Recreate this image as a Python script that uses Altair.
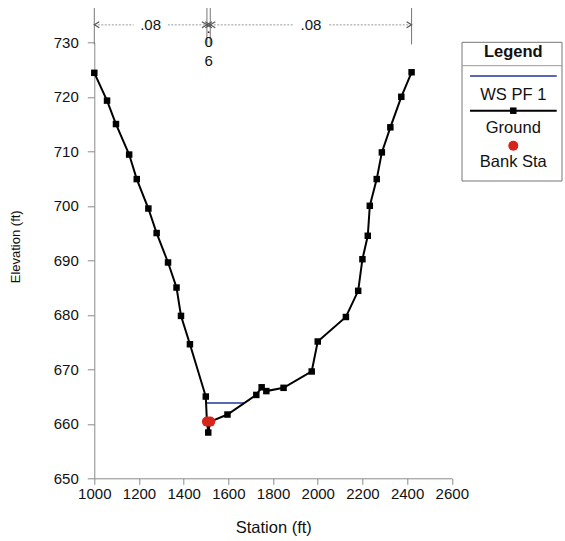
import altair as alt
import pandas as pd

# ---------------- data ----------------
ground_station = [1000, 1057, 1097, 1156, 1190, 1242, 1279, 1330, 1368, 1388,
                  1428, 1499, 1504, 1510, 1519, 1596, 1725, 1749, 1770, 1847,
                  1973, 2000, 2126, 2181, 2200, 2224, 2233, 2264, 2287, 2325,
                  2374, 2420]
ground_elev = [724.4, 719.3, 715.0, 709.4, 704.9, 699.5, 695.0, 689.6, 685.0, 679.8,
               674.6, 665.0, 660.4, 658.4, 660.4, 661.7, 665.3, 666.7, 666.0, 666.6,
               669.6, 675.1, 679.6, 684.4, 690.2, 694.5, 700.0, 704.9, 709.8, 714.4,
               720.0, 724.5]
ws_station = [1499, 1672]
ws_elev = [663.8, 663.8]
bank_station = [1504, 1519]
bank_elev = [660.4, 660.4]
n_break_station = [1000, 1504, 1519, 2420]
n_values = [".08", ".06", ".08"]
x_ticks = list(range(1000, 2601, 100))
y_ticks = list(range(650, 731, 5))
legend_labels = ["WS PF 1", "Ground", "Bank Sta"]

FONT = "Liberation Sans"
GRAY = "#8a8a8a"

ground = pd.DataFrame({"station": ground_station, "elev": ground_elev,
                       "order": list(range(len(ground_station)))})
ws = pd.DataFrame({"station": ws_station, "elev": ws_elev})
bank = pd.DataFrame({"station": bank_station, "elev": bank_elev})

xscale = alt.Scale(domain=[1000, 2600], nice=False, zero=False)
yscale = alt.Scale(domain=[650, 730], nice=False, zero=False)

xaxis = alt.Axis(values=x_ticks, labelExpr="datum.value % 200 == 0 ? datum.label : ''",
                 format="d", grid=False, title="Station (ft)", labelFont=FONT,
                 labelFontSize=15, labelColor="#111", titleFont=FONT, titleFontSize=16.5,
                 titleFontWeight="normal", titleColor="#111", domainColor=GRAY,
                 tickColor=GRAY, tickSize=6, labelPadding=2, titleX=179, titleY=49,
                 titleBaseline="middle", labelFlush=False, labelOverlap=False)
yaxis = alt.Axis(values=y_ticks, labelExpr="datum.value % 10 == 0 ? datum.label : ''",
                 format="d", grid=False, title="Elevation (ft)", labelFont=FONT,
                 labelFontSize=15, labelColor="#111", titleFont=FONT, titleFontSize=13,
                 titleFontWeight="normal", titleColor="#111", domainColor=GRAY,
                 tickColor=GRAY,
                 tickSize={"condition": {"test": "datum.value % 10 == 0", "value": 7},
                           "value": 4},
                 labelPadding=9, titleX=-79, titleY=204,
                 titleAngle=-90, titleAlign="center", titleBaseline="middle",
                 labelFlush=False, labelOverlap=False)

X = alt.X("station:Q", scale=xscale, axis=xaxis)
Y = alt.Y("elev:Q", scale=yscale, axis=yaxis)

ws_line = alt.Chart(ws).mark_line(color="#24359b", strokeWidth=1.5).encode(x=X, y=Y)
ground_line = alt.Chart(ground).mark_line(color="black", strokeWidth=2).encode(
    x=X, y=Y, order="order:Q")
ground_pts = alt.Chart(ground).mark_square(size=42, color="black", opacity=1).encode(x=X, y=Y)
bank_pts = alt.Chart(bank).mark_circle(size=100, color="#d8231a", opacity=1).encode(x=X, y=Y)

# ---------------- Manning's n annotation ----------------
nb = pd.DataFrame({"station": n_break_station})
n_rules = alt.Chart(nb).mark_rule(color="#777", strokeWidth=1).encode(
    x="station:Q", y=alt.datum(736.3), y2=alt.datum(729.6))

segs = pd.DataFrame({"s0": n_break_station[:-1], "s1": n_break_station[1:],
                     "label": n_values})
segs["mid"] = (segs["s0"] + segs["s1"]) / 2
segs["c1"] = segs["label"].str[1]
segs["c2"] = segs["label"].str[2]
n_dash = alt.Chart(segs).mark_rule(color="#999", strokeWidth=1, strokeDash=[2, 1.5]).encode(
    x="s0:Q", x2="s1:Q", y=alt.datum(733.2))
wide = segs[segs["label"] == ".08"]
n_bg = alt.Chart(wide).mark_rect(width=34, height=16, color="white").encode(
    x="mid:Q", y=alt.datum(733.2))
n_txt = alt.Chart(wide).mark_text(font=FONT, fontSize=15, color="#111",
                                  baseline="middle").encode(
    x="mid:Q", y=alt.datum(733.2), text="label:N")
narrow = segs[segs["label"] == ".06"]
n_dot = alt.Chart(narrow).mark_text(text=".", font=FONT, fontSize=15, color="#111",
                                    baseline="alphabetic", dy=8).encode(
    x="mid:Q", y=alt.datum(733.2))
n_c1 = alt.Chart(narrow).mark_text(font=FONT, fontSize=15, color="#111",
                                   baseline="middle", dy=17).encode(
    x="mid:Q", y=alt.datum(733.2), text="c1:N")
n_c2 = alt.Chart(narrow).mark_text(font=FONT, fontSize=15, color="#111",
                                   baseline="middle", dy=36).encode(
    x="mid:Q", y=alt.datum(733.2), text="c2:N")

arrows_l = alt.Chart(segs).mark_point(shape="M 1 -0.6 L 0 0 L 1 0.6", size=100,
                                      color="#555", filled=False, strokeWidth=1.2,
                                      opacity=1).encode(x="s0:Q", y=alt.datum(733.2))
arrows_r = alt.Chart(segs).mark_point(shape="M -1 -0.6 L 0 0 L -1 0.6", size=100,
                                      color="#555", filled=False, strokeWidth=1.2,
                                      opacity=1).encode(x="s1:Q", y=alt.datum(733.2))

# ---------------- legend (drawn) ----------------
one = pd.DataFrame({"a": [0]})
LX0, LX1, LCX = 367.7, 467.7, 419
leg_box = alt.Chart(one).mark_rect(fill="white", stroke="#777", strokeWidth=1).encode(
    x=alt.value(LX0), x2=alt.value(LX1), y=alt.value(0), y2=alt.value(138.7))
leg_sep = alt.Chart(one).mark_rule(color="#999", strokeWidth=1).encode(
    x=alt.value(LX0), x2=alt.value(LX1), y=alt.value(23.4))
leg_title = alt.Chart(one).mark_text(text="Legend", font=FONT, fontSize=16.5,
                                     fontWeight="bold", color="#111",
                                     baseline="alphabetic").encode(
    x=alt.value(LCX), y=alt.value(14.6))
leg_ws = alt.Chart(one).mark_rule(color="#24359b", strokeWidth=1.5).encode(
    x=alt.value(375.7), x2=alt.value(462.4), y=alt.value(33.7))
leg_gr = alt.Chart(one).mark_rule(color="black", strokeWidth=2).encode(
    x=alt.value(375.7), x2=alt.value(462.4), y=alt.value(68.4))
leg_sq = alt.Chart(one).mark_square(size=42, color="black", opacity=1).encode(
    x=alt.value(LCX), y=alt.value(68.4))
leg_dot = alt.Chart(one).mark_circle(size=100, color="#d8231a", opacity=1).encode(
    x=alt.value(LCX), y=alt.value(103.4))
leg_text_y = [57.2, 90.6, 124.4]
leg_txts = [
    alt.Chart(one).mark_text(text=lab, font=FONT, fontSize=16.5, color="#111",
                             baseline="alphabetic").encode(x=alt.value(LCX), y=alt.value(yy))
    for lab, yy in zip(legend_labels, leg_text_y)
]

chart = alt.layer(
    ws_line, ground_line, ground_pts, bank_pts,
    n_rules, n_dash, n_bg, n_txt, n_dot, n_c1, n_c2, arrows_l, arrows_r,
    leg_box, leg_sep, leg_title, leg_ws, leg_gr, leg_sq, leg_dot, *leg_txts,
).properties(
    width=357.5, height=436,
    autosize=alt.AutoSizeParams(type="none"),
    padding={"left": 94.3, "top": 42.3, "right": 113.2, "bottom": 62.7},
    background="white",
).configure_view(stroke=None)

chart.save("out.html", embed_options={"renderer": "svg", "actions": False})
